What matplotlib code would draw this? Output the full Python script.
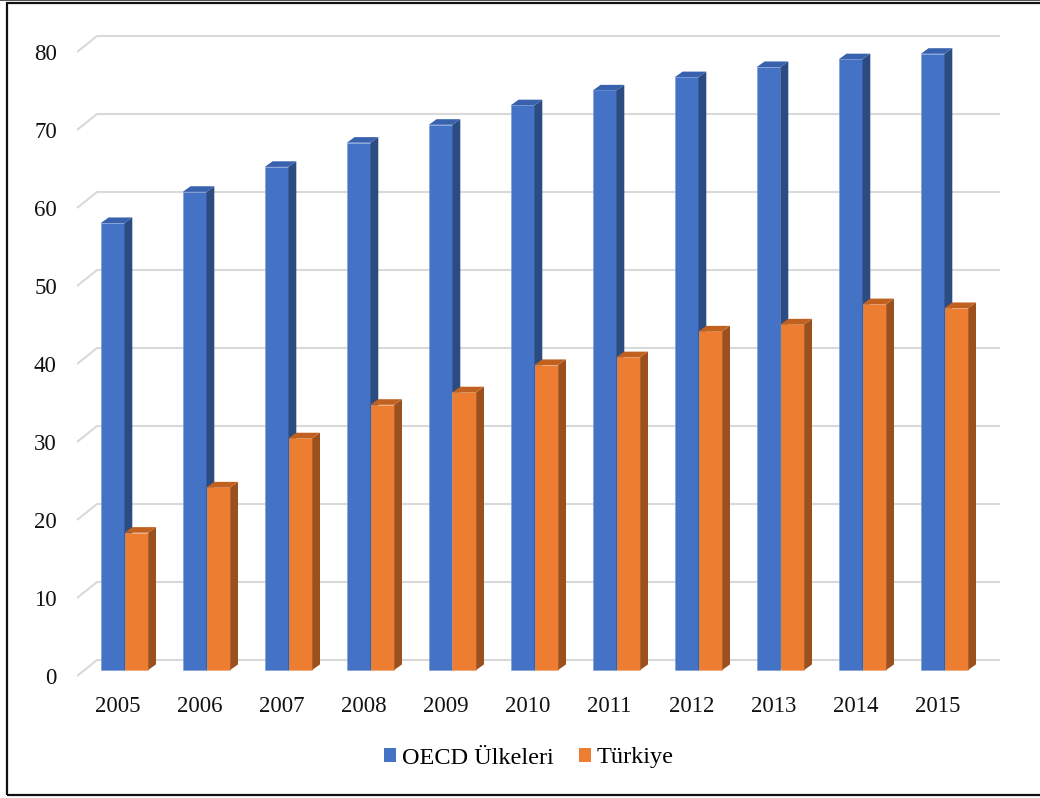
import matplotlib
matplotlib.use("Agg")
import matplotlib.pyplot as plt
from matplotlib.patches import Patch, Rectangle

# ---- data ----
years = ["2005", "2006", "2007", "2008", "2009", "2010", "2011", "2012", "2013", "2014", "2015"]
oecd = [57.3, 61.3, 64.5, 67.6, 69.9, 72.4, 74.3, 76.0, 77.3, 78.3, 79.0]
turkiye = [17.6, 23.4, 29.7, 34.0, 35.6, 39.1, 40.1, 43.4, 44.3, 46.9, 46.4]
yticks = [0, 10, 20, 30, 40, 50, 60, 70, 80]
series_names = ["OECD Ülkeleri", "Türkiye"]

# ---- style ----
plt.rcParams['font.family'] = ['Liberation Serif', 'DejaVu Serif']
W, H = 1040, 798
fig = plt.figure(figsize=(W / 100, H / 100), dpi=100)
fig.patch.set_facecolor("white")

# layout in pixels (front plane of the 3-D box)
L, R, T, B = 77, 980, 30, 676
X0 = 117.5          # pixel of first category centre on front plane
PX_X = 82.0         # pixels per category
PX_Y = 7.8          # pixels per value unit

ax = fig.add_axes([L / W, (H - B) / H, (R - L) / W, (B - T) / H])
ax.set_xlim((L - X0) / PX_X, (R - X0) / PX_X)
ax.set_ylim(0, (B - T) / PX_Y)
for s in ax.spines.values():
    s.set_visible(False)
ax.set_facecolor("none")


def off(dx, dy):
    """pixel offset (right, up) -> data units"""
    return dx / PX_X, dy / PX_Y


# gridlines (front-left slant + back wall line)
gx, gy = off(20, 16)
x_l, x_r = ax.get_xlim()
for v in yticks:
    ax.plot([x_l, x_l + gx, x_r + gx], [v, v + gy, v + gy],
            color="#d9d9d9", lw=1.5, zorder=1, clip_on=False,
            solid_capstyle="butt")

# bars with pseudo-3-D faces
bw = 23.7 / PX_X
d1x, d1y = off(7, 6)        # bar front face depth
ddx, ddy = off(7.8, 5.6)    # bar depth

colors = {
    0: ("#4472C4", "#2C4B80", "#3862AE"),
    1: ("#ED7D31", "#9C501D", "#C0611F"),
}

z = 3
for i in range(len(years)):
    for k, vals in enumerate([oecd, turkiye]):
        v = vals[i]
        front, side, top = colors[k]
        xl = i - bw + k * bw + d1x
        xr = xl + bw
        ax.bar(xl, v, width=bw, bottom=d1y, align="edge", color=front,
               edgecolor="#7a9ad6" if k == 0 else "#f3a26c", linewidth=0.4,
               zorder=z, clip_on=False)
        ax.fill([xr, xr + ddx, xr + ddx, xr],
                [d1y, d1y + ddy, d1y + v + ddy, d1y + v],
                color=side, lw=0, zorder=z, clip_on=False)
        ax.fill([xl, xr, xr + ddx, xl + ddx],
                [d1y + v, d1y + v, d1y + v + ddy, d1y + v + ddy],
                color=top, lw=0, zorder=z, clip_on=False)
        z += 1

# ticks
ax.set_yticks(yticks)
ax.set_yticklabels([str(t) for t in yticks])
ax.set_xticks(range(len(years)))
ax.set_xticklabels(years)
ax.tick_params(axis="y", length=0, pad=14.5, labelsize=16.5, labelcolor="#111111")
ax.tick_params(axis="x", length=0, pad=14.5, labelsize=16.5, labelcolor="#111111")

# legend
handles = [Patch(facecolor=colors[0][0]), Patch(facecolor=colors[1][0])]
fig.legend(handles, series_names, loc="center", bbox_to_anchor=(529 / W, 1 - 758 / H),
           ncol=2, frameon=False, fontsize=17.5, handlelength=0.48, handleheight=0.48,
           handletextpad=0.25, columnspacing=1.05, borderpad=0, borderaxespad=0)

# outer frame
fig.patches.append(Rectangle((6.5 / W, 3 / H), 1.2, (795 - 3) / H, transform=fig.transFigure,
                             fill=False, edgecolor="#111111", lw=1.6, clip_on=False))
fig.patches.append(Rectangle((0, 1 - 1.2 / H), 1, 1.2 / H, transform=fig.transFigure,
                             facecolor="#555555", edgecolor="none"))

fig.savefig("out.png", dpi=100)
